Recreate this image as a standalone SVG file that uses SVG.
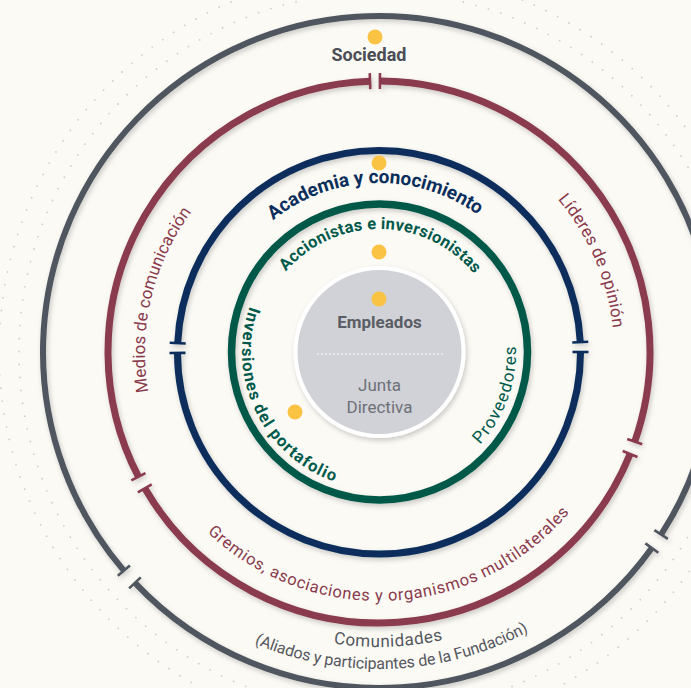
<svg xmlns="http://www.w3.org/2000/svg" width="691" height="688" viewBox="0 0 691 688">
<defs>
<filter id="sh" x="-10%" y="-10%" width="120%" height="120%">
<feDropShadow dx="1.5" dy="2.5" stdDeviation="2.5" flood-color="#000" flood-opacity="0.2"/>
</filter>
<path id="pAcad" d="M211.86,327.02 A169,169 0 0 1 544.61,318.31"/>
<path id="pAcc" d="M258.16,329.06 A123,123 0 0 1 500.40,332.23"/>
<path id="pInv" d="M249.86,306.27 A137,137 0 0 0 343.54,484.33"/>
<path id="pProv" d="M480.01,444.56 A137,137 0 0 0 515.25,337.68"/>
<path id="pMed" d="M148.41,391.83 A234,234 0 0 1 199.75,201.59"/>
<path id="pLid" d="M557.70,199.38 A235,235 0 0 1 613.86,343.80"/>
<path id="pGre" d="M207.28,532.32 A249,249 0 0 0 580.45,498.36"/>
<path id="pCom" d="M239.59,611.98 A295,295 0 0 0 534.46,602.67"/>
<path id="pAli" d="M232.63,633.18 A317,317 0 0 0 549.33,619.36"/>
</defs>
<style>
.f{font-family:Roboto,"Liberation Sans",sans-serif}
.b{font-weight:700}
.ring{fill:none}
.gray{stroke:#4f565f}
.mar{stroke:#8a3a4d}
.navy{stroke:#0b2f5c}
.grn{stroke:#00594a}
.tick{stroke-width:2.6;stroke-linecap:butt}
.dot{fill:#fbc344}
.dots{fill:none;stroke:#cfccd8;stroke-width:1.8;stroke-linecap:round;stroke-dasharray:0 13}
</style>
<rect width="691" height="688" fill="#fcfaf5"/>
<g id="background-dots">
<circle class="dots" cx="379" cy="352" r="360"/>
<circle class="dots" cx="379" cy="352" r="380"/>
</g>
<g id="rings" filter="url(#sh)">
<g id="ring-sociedad" class="ring gray">
<path stroke-width="6" d="M651.86,548.07 A336,336 0 0 1 134.94,582.93"/>
<path stroke-width="6" d="M123.89,570.66 A336,336 0 1 1 661.11,534.51"/>
<g class="tick">
<line x1="645.36" y1="543.40" x2="658.36" y2="552.74"/>
<line x1="140.75" y1="577.43" x2="129.13" y2="588.43"/>
<line x1="129.96" y1="565.45" x2="117.81" y2="575.86"/>
<line x1="654.40" y1="530.16" x2="667.83" y2="538.85"/>
</g>
</g>
<g id="ring-grupos" class="ring mar">
<path stroke-width="7" d="M379.95,81.00 A271,271 0 0 1 634.77,441.57"/>
<path stroke-width="7" d="M630.09,453.96 A271,271 0 0 1 144.78,488.32"/>
<path stroke-width="7" d="M138.40,476.71 A271,271 0 0 1 370.01,81.15"/>
<g class="tick">
<line x1="379.92" y1="89.00" x2="379.97" y2="73.00"/>
<line x1="370.28" y1="89.14" x2="369.75" y2="73.15"/>
<line x1="627.22" y1="438.92" x2="642.32" y2="444.21"/>
<line x1="622.68" y1="450.95" x2="637.50" y2="456.97"/>
<line x1="151.70" y1="484.29" x2="137.87" y2="492.34"/>
<line x1="145.50" y1="473.03" x2="131.30" y2="480.40"/>
</g>
</g>
<g id="ring-academia" class="ring navy">
<path stroke-width="7" d="M177.70,343.07 A201.5,201.5 0 0 1 580.26,342.16"/>
<path stroke-width="7" d="M580.50,352 A201.5,201.5 0 0 1 177.50,352.91"/>
<g class="tick">
<line x1="185.69" y1="343.43" x2="169.71" y2="342.72"/>
<line x1="185.50" y1="352.88" x2="169.50" y2="352.95"/>
<line x1="572.27" y1="342.55" x2="588.25" y2="341.77"/>
<line x1="572.50" y1="352" x2="588.50" y2="352"/>
</g>
</g>
<g id="ring-accionistas" class="ring grn">
<circle cx="379.5" cy="352" r="148" stroke-width="7.5"/>
</g>
<g id="core">
<circle cx="379.5" cy="352" r="84" fill="#d1d2d7" stroke="#ffffff" stroke-width="4"/>
</g>
</g>
<g id="node-sociedad">
<circle class="dot" cx="375" cy="37" r="7.5"/>
<text class="f b" x="369" y="61" font-size="18" fill="#4a4d55" text-anchor="middle">Sociedad</text>
</g>
<g id="node-academia">
<circle class="dot" cx="379" cy="163" r="7.5"/>
<text class="f b" font-size="19" fill="#0b2f5c"><textPath href="#pAcad" startOffset="50%" text-anchor="middle" textLength="220" lengthAdjust="spacing">Academia y conocimiento</textPath></text>
</g>
<g id="node-accionistas">
<circle class="dot" cx="379" cy="252" r="7.5"/>
<text class="f b" font-size="16.5" fill="#00594a"><textPath href="#pAcc" startOffset="50%" text-anchor="middle" textLength="214" lengthAdjust="spacing">Accionistas e inversionistas</textPath></text>
</g>
<g id="node-inversiones">
<circle class="dot" cx="295" cy="412" r="7.5"/>
<text class="f b" font-size="16.5" fill="#00594a"><textPath href="#pInv" textLength="216" lengthAdjust="spacing">Inversiones del portafolio</textPath></text>
</g>
<g id="node-proveedores">
<text class="f" font-size="17" fill="#00594a"><textPath href="#pProv" textLength="107" lengthAdjust="spacing">Proveedores</textPath></text>
</g>
<g id="node-empleados">
<circle class="dot" cx="379" cy="299" r="7.5"/>
<text class="f b" x="379.5" y="328" font-size="17" fill="#5a5d64" text-anchor="middle">Empleados</text>
<line x1="317" y1="354" x2="444" y2="354" stroke="#ffffff" stroke-width="1.2" stroke-dasharray="2 2"/>
</g>
<g id="node-junta">
<text class="f" x="379.5" y="391" font-size="17" fill="#6e7077" text-anchor="middle">Junta</text>
<text class="f" x="379.5" y="413" font-size="17" fill="#6e7077" text-anchor="middle">Directiva</text>
</g>
<g id="node-medios">
<text class="f" font-size="17" fill="#8a3a4d"><textPath href="#pMed" textLength="190" lengthAdjust="spacing">Medios de comunicación</textPath></text>
</g>
<g id="node-lideres">
<text class="f" font-size="17" fill="#8a3a4d"><textPath href="#pLid" textLength="142" lengthAdjust="spacing">Líderes de opinión</textPath></text>
</g>
<g id="node-gremios">
<text class="f" font-size="16.5" fill="#8a3a4d"><textPath href="#pGre" textLength="406" lengthAdjust="spacing">Gremios, asociaciones y organismos multilaterales</textPath></text>
</g>
<g id="node-comunidades">
<text class="f" font-size="17" fill="#55585f"><textPath href="#pCom" startOffset="50%" text-anchor="middle" textLength="110" lengthAdjust="spacing">Comunidades</textPath></text>
<text class="f" font-size="16" fill="#55585f"><textPath href="#pAli" startOffset="50%" text-anchor="middle" textLength="284" lengthAdjust="spacing">(Aliados y participantes de la Fundación)</textPath></text>
</g>
<g id="connectors"/>
</svg>
